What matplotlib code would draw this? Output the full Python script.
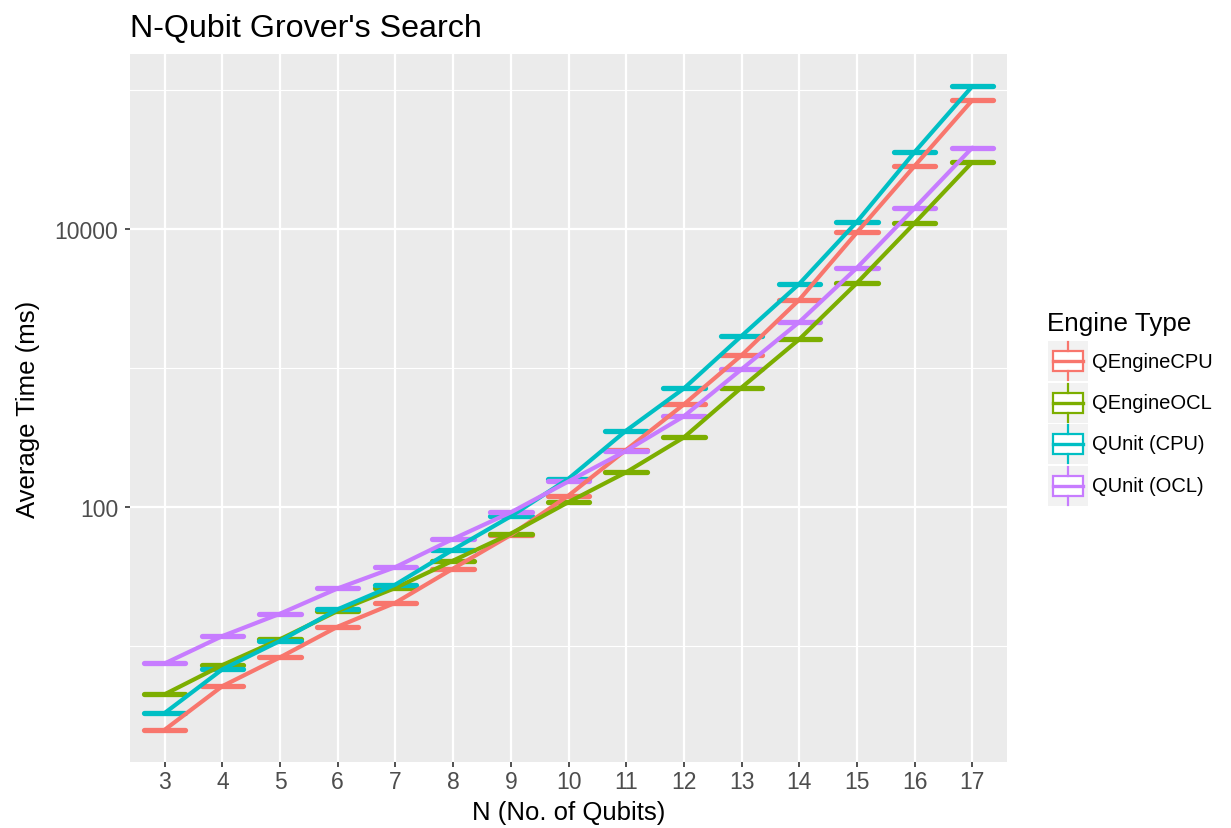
import matplotlib.pyplot as plt
import numpy as np
from matplotlib.patches import Rectangle
from matplotlib.ticker import FixedLocator, NullFormatter

plt.rcParams['font.family'] = ['Liberation Sans', 'DejaVu Sans']

# Average run time (ms) per qubit count for each engine
qubits = np.arange(3, 18)
engines = ['QEngineCPU', 'QEngineOCL', 'QUnit (CPU)', 'QUnit (OCL)']
colors = ['#F8766D', '#7CAE00', '#00BFC4', '#C77CFF']

qengine_cpu = [2.5, 5.15, 8.3, 13.8, 20.5, 36.1, 63, 121, 258, 548, 1236, 3098, 9460, 28440, 84500]
qengine_ocl = [4.5, 7.3, 11.2, 17.9, 26.2, 41.2, 64.4, 108.6, 178, 317, 724, 1610, 4090, 11040, 30300]
qunit_cpu = [3.3, 6.8, 10.9, 18.4, 27.7, 49.4, 85.8, 160, 355, 713, 1702, 4033, 11280, 35800, 106400]
qunit_ocl = [7.5, 11.8, 17.1, 26, 37, 59, 91.6, 153, 254, 450, 980, 2142, 5260, 14150, 38500]
series = [qengine_cpu, qengine_ocl, qunit_cpu, qunit_ocl]

W, H = 1231, 829
fig = plt.figure(figsize=(W / 100, H / 100), dpi=100)
ax = fig.add_axes([130 / W, 66 / H, 877 / W, 708 / H])
ax.set_facecolor('#EBEBEB')
for s in ax.spines.values():
    s.set_visible(False)

# flat boxes (tiny spread) then the lines through the medians
for vals, c in zip(series, colors):
    ax.hlines(vals, qubits - 0.36, qubits + 0.36, color=c, lw=3.8, zorder=3,
              capstyle='round')
for vals, c in zip(series, colors):
    ax.plot(qubits, vals, color=c, lw=3.0, zorder=4, solid_capstyle='round')

ax.set_yscale('log')
allv = np.log10(np.concatenate(series))
lo, hi = allv.min(), allv.max()
pad = 0.05 * (hi - lo)
ax.set_ylim(10 ** (lo - pad), 10 ** (hi + pad))
ax.set_xlim(qubits[0] - 0.6, qubits[-1] + 0.6)

ax.set_xticks(qubits)
ax.set_xticklabels([str(q) for q in qubits])
ax.yaxis.set_major_locator(FixedLocator([100, 10000]))
ax.set_yticklabels(['100', '10000'])
ax.yaxis.set_minor_locator(FixedLocator([10, 1000, 100000]))
ax.yaxis.set_minor_formatter(NullFormatter())
ax.tick_params(axis='both', which='major', color='#333333', length=3.6, width=1.2,
               labelcolor='#4D4D4D', labelsize=16.5)
ax.tick_params(axis='x', which='major', pad=2.5)
ax.tick_params(axis='y', which='major', pad=5)
ax.tick_params(axis='y', which='minor', length=0)
ax.grid(which='major', color='white', lw=1.6, zorder=0)
ax.grid(which='minor', axis='y', color='white', lw=0.8, zorder=0)
ax.set_axisbelow(True)

ax.set_xlabel('N (No. of Qubits)', fontsize=18.5, labelpad=5)
ax.set_ylabel('Average Time (ms)', fontsize=18.5, labelpad=10)
ax.set_title("N-Qubit Grover's Search", fontsize=23.2, loc='left', pad=13)

# legend drawn in pixel coordinates
lg = fig.add_axes([0, 0, 1, 1])
lg.set_xlim(0, W)
lg.set_ylim(H, 0)
lg.axis('off')
lg.text(1047, 331, 'Engine Type', fontsize=18.7, va='baseline', ha='left')
for i, (name, c) in enumerate(zip(engines, colors)):
    cy = 362 + i * 41.5
    lg.add_patch(Rectangle((1048, cy - 20), 40, 40, facecolor='#F2F2F2', edgecolor='none'))
    lg.add_patch(Rectangle((1053, cy - 10), 30, 20, facecolor='white', edgecolor=c, lw=1.6))
    lg.plot([1053, 1083], [cy, cy], color=c, lw=2.4)
    lg.plot([1068, 1068], [cy - 19, cy - 10], color=c, lw=1.6)
    lg.plot([1068, 1068], [cy + 10, cy + 19], color=c, lw=1.6)
    lg.text(1092, cy, name, fontsize=14.5, va='center', ha='left', color='black')

fig.savefig('out.png', dpi=100)
